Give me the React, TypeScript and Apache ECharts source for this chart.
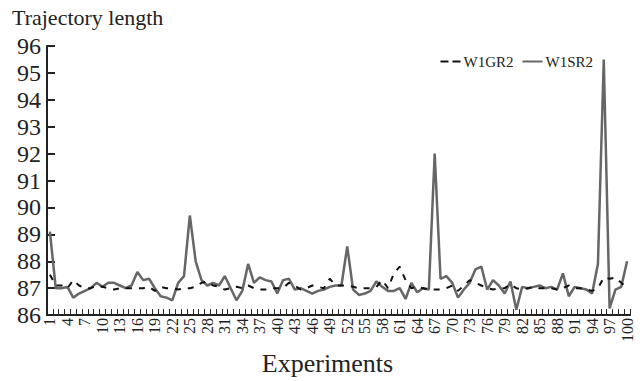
import React, { useEffect, useRef } from "react";
import * as echarts from "echarts";

const categories: string[] = Array.from({ length: 100 }, (_, i) => String(i + 1));

const w1gr2: number[] = [
  87.5, 87.1, 87.1, 87.0, 87.3, 87.1, 87.0, 87.0, 87.1, 87.05,
  87.0, 86.95, 87.0, 87.0, 87.0, 87.0, 87.0, 87.05, 86.9, 87.05,
  87.0, 87.0, 86.95, 87.0, 87.0, 87.05, 87.2, 87.25, 87.1, 87.05,
  86.95, 87.0, 87.05, 87.0, 87.1, 87.0, 86.95, 86.95, 87.0, 87.0,
  87.0, 87.2, 87.1, 86.95, 87.0, 87.1, 87.05, 87.0, 87.35, 87.1,
  87.1, 87.1, 87.05, 87.0, 87.0, 87.0, 87.05, 87.3, 87.0, 87.55,
  87.8, 87.3, 87.0, 87.05, 87.0, 86.95, 86.95, 86.95, 87.0, 87.1,
  86.9, 87.1, 87.3, 87.2, 87.1, 87.0, 86.95, 87.0, 87.0, 87.15,
  87.0, 86.95, 87.0, 87.05, 87.0, 87.0, 87.0, 86.95, 87.0, 87.1,
  87.0, 87.0, 86.95, 86.9, 87.0, 87.4, 87.35, 87.4, 87.2, 87.0,
];

const w1sr2: number[] = [
  89.1, 87.0, 87.0, 87.05, 86.65, 86.8, 86.9, 87.0, 87.2, 87.05,
  87.2, 87.2, 87.1, 87.0, 87.1, 87.6, 87.3, 87.35, 87.0, 86.7,
  86.65, 86.55, 87.2, 87.45, 89.7, 88.0, 87.3, 87.1, 87.2, 87.1,
  87.45, 87.0, 86.55, 86.9, 87.9, 87.2, 87.4, 87.3, 87.25, 86.8,
  87.3, 87.35, 86.95, 87.0, 86.9, 86.8, 86.9, 86.95, 87.05, 87.1,
  87.1, 88.55, 86.95, 86.75, 86.8, 86.9, 87.25, 87.05, 86.9, 86.9,
  87.0, 86.6, 87.2, 86.85, 87.0, 86.95, 92.0, 87.35, 87.45, 87.2,
  86.65, 86.95, 87.2, 87.7, 87.8, 86.95, 87.3, 87.1, 86.8, 87.25,
  86.2, 87.05, 87.0, 87.05, 87.1, 87.0, 87.05, 86.95, 87.55, 86.7,
  87.05, 87.0, 86.95, 86.8, 87.9, 95.5, 86.25, 86.95, 87.05, 88.0,
];

const yMin = 86;
const yMax = 96;
const yStep = 1;

const FONT = "'Liberation Serif', 'DejaVu Serif', serif";

export default function App() {
  const ref = useRef<HTMLDivElement>(null);
  useEffect(() => {
    if (!ref.current) return;
    const chart = echarts.init(ref.current, undefined, { renderer: "svg" });
    chart.setOption({
      animation: false,
      backgroundColor: "#ffffff",
      grid: { left: 47, right: 14, top: 46, bottom: 62, containLabel: false },
      legend: {
        top: 49,
        right: 46,
        itemWidth: 20,
        itemHeight: 10,
        itemGap: 9,
        textStyle: { fontFamily: FONT, fontSize: 15, color: "#222", padding: [0, 0, 0, -2] },
        data: [
          { name: "W1GR2", icon: "path://M0,0H8V2H0Z M12,0H20V2H12Z" },
          { name: "W1SR2", icon: "path://M0,0H20V2H0Z" },
        ],
      },
      graphic: [
        {
          type: "text",
          left: 12,
          top: 6,
          style: { text: "Trajectory length", font: `22px ${FONT}`, fill: "#222" },
        },
      ],
      xAxis: {
        type: "category",
        data: categories,
        boundaryGap: true,
        name: "Experiments",
        nameLocation: "middle",
        nameGap: 32,
        nameTextStyle: { fontFamily: FONT, fontSize: 26, color: "#222", padding: [0, 22, 0, 0] },
        axisLine: { lineStyle: { color: "#222", width: 2 } },
        axisTick: { show: true, inside: true, length: 6, interval: 0, lineStyle: { color: "#222", width: 1 } },
        axisLabel: {
          interval: 2,
          rotate: 90,
          margin: 3,
          fontFamily: FONT,
          fontSize: 16,
          color: "#222",
        },
        splitLine: { show: false },
      },
      yAxis: {
        type: "value",
        min: yMin,
        max: yMax,
        interval: yStep,
        axisLine: { show: true, lineStyle: { color: "#222", width: 2 } },
        axisTick: { show: true, inside: true, length: 8, lineStyle: { color: "#222", width: 2 } },
        axisLabel: { fontFamily: FONT, fontSize: 24, color: "#222", margin: 6 },
        splitLine: { show: false },
      },
      series: [
        {
          name: "W1GR2",
          type: "line",
          data: w1gr2,
          symbol: "none",
          lineStyle: { color: "#111", width: 2, type: [6, 7] },
          itemStyle: { color: "#111" },
          z: 3,
        },
        {
          name: "W1SR2",
          type: "line",
          data: w1sr2,
          symbol: "none",
          lineStyle: { color: "#666666", width: 2.5 },
          itemStyle: { color: "#666666" },
          z: 2,
        },
      ],
    });
    return () => chart.dispose();
  }, []);
  return <div ref={ref} style={{ width: 644, height: 381, marginLeft: -8, marginTop: -8 }} />;
}
